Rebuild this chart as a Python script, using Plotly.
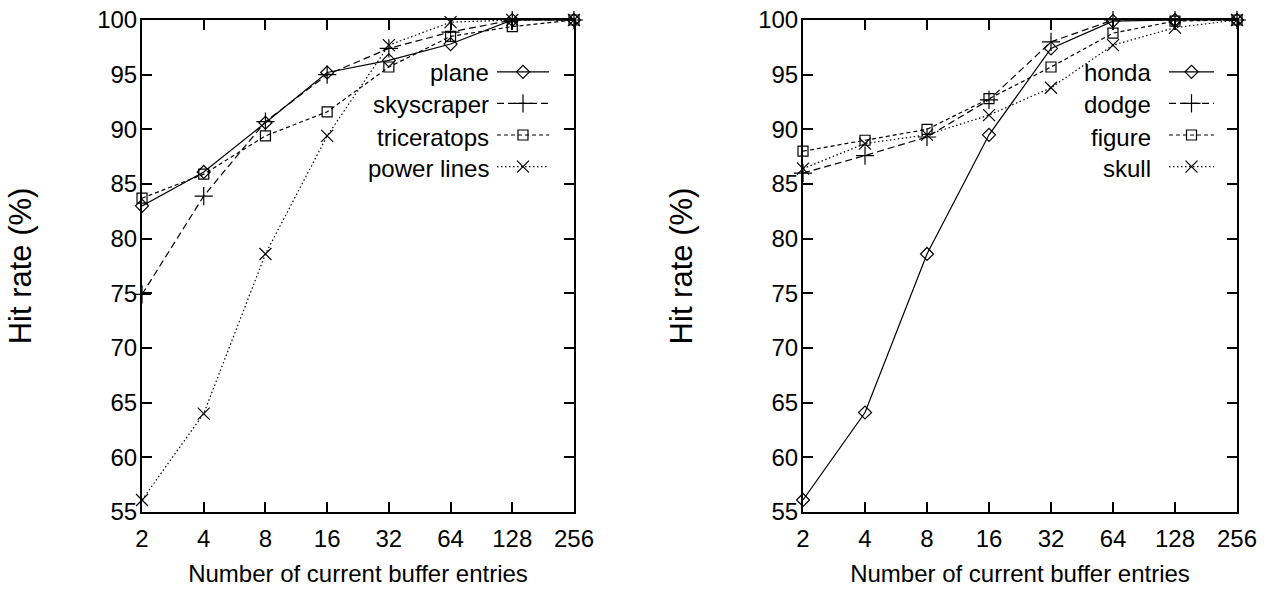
import math
import plotly.graph_objects as go

# ---------------- data ----------------
entries = [2, 4, 8, 16, 32, 64, 128, 256]
tick_labels = ["2", "4", "8", "16", "32", "64", "128", "256"]
y_ticks = [55, 60, 65, 70, 75, 80, 85, 90, 95, 100]

plane = [83.0, 86.1, 90.6, 95.2, 96.3, 97.8, 100.0, 100.0]
skyscraper = [74.9, 83.9, 90.7, 95.0, 97.4, 98.9, 100.0, 100.0]
triceratops = [83.7, 85.9, 89.4, 91.6, 95.7, 98.5, 99.4, 100.0]
power_lines = [56.1, 64.0, 78.6, 89.4, 97.7, 99.8, 100.0, 100.0]

honda = [56.1, 64.1, 78.6, 89.5, 97.4, 99.9, 100.0, 100.0]
dodge = [86.0, 87.6, 89.3, 92.7, 98.0, 100.0, 100.0, 100.0]
figure_ = [88.0, 89.0, 90.0, 92.8, 95.7, 98.8, 99.9, 100.0]
skull = [86.4, 88.7, 89.5, 91.3, 93.8, 97.7, 99.3, 100.0]

left_series = [("plane", plane), ("skyscraper", skyscraper),
               ("triceratops", triceratops), ("power lines", power_lines)]
right_series = [("honda", honda), ("dodge", dodge),
                ("figure", figure_), ("skull", skull)]

# ---------------- styles ----------------
styles = [
    dict(symbol="diamond-open", size=10, dash="solid"),
    dict(symbol="cross-thin-open", size=13, dash="7px,4px"),
    dict(symbol="square-open", size=10, dash="4px,3px"),
    dict(symbol="x-thin-open", size=12, dash="1.5px,2.5px"),
]

FONT = "Liberation Sans, Arial, Helvetica, sans-serif"

fig = go.Figure()

def add_panel(series, xa, ya, legend_id):
    for (name, vals), st in zip(series, styles):
        line = dict(color="black", width=1.2, dash=st["dash"])
        marker = dict(symbol=st["symbol"], size=st["size"], color="black",
                      line=dict(color="black", width=1.2))
        fig.add_trace(go.Scatter(
            x=entries, y=vals, name=name, mode="lines+markers",
            line=line, marker=marker, xaxis=xa, yaxis=ya,
            showlegend=False, cliponaxis=False))
        # legend key only (its text is drawn as an annotation on its left)
        fig.add_trace(go.Scatter(
            x=[None], y=[None], name="\u00a0", mode="lines+markers",
            line=line, marker=marker, xaxis=xa, yaxis=ya,
            showlegend=True, legend=legend_id, hoverinfo="skip"))

add_panel(left_series, "x", "y", "legend")
add_panel(right_series, "x2", "y2", "legend2")

xr = [math.log10(entries[0]) - 1e-4, math.log10(entries[-1]) + 1e-4]

axis_common = dict(
    type="log", range=xr, tickvals=entries, ticktext=tick_labels,
    ticks="inside", ticklen=10, tickwidth=2, tickcolor="black",
    showline=True, linecolor="black", linewidth=2, mirror="ticks",
    showgrid=False, zeroline=False, ticklabelstandoff=4, automargin=False,
    tickfont=dict(family=FONT, size=24, color="black"),
    title=dict(text="Number of current buffer entries",
               font=dict(family=FONT, size=24, color="black"), standoff=14),
)
yaxis_common = dict(
    range=[55, 100], tickvals=y_ticks,
    ticks="inside", ticklen=10, tickwidth=2, tickcolor="black",
    showline=True, linecolor="black", linewidth=2, mirror="ticks",
    showgrid=False, zeroline=False, ticklabelstandoff=-2, automargin=False,
    tickfont=dict(family=FONT, size=24, color="black"),
    title=dict(text="Hit rate (%)", font=dict(family=FONT, size=31, color="black"),
               standoff=56),
)

W, H = 1266, 594
ml, mr, mt, mb = 142, 29, 20, 82
pw = W - ml - mr

fig.update_layout(
    width=W, height=H,
    margin=dict(l=ml, r=mr, t=mt, b=mb),
    paper_bgcolor="white", plot_bgcolor="white",
    xaxis=dict(axis_common, domain=[0, (574 - 142) / pw], anchor="y"),
    yaxis=dict(yaxis_common, domain=[0, 1], anchor="x"),
    xaxis2=dict(axis_common, domain=[(803 - 142) / pw, 1], anchor="y2"),
    yaxis2=dict(yaxis_common, domain=[0, 1], anchor="x2"),
    legend=dict(x=(492 - 142) / pw, xanchor="left", y=1 - (51 - 20) / 492,
                yanchor="top", bgcolor="rgba(0,0,0,0)", borderwidth=0,
                itemwidth=52, tracegroupgap=0,
                font=dict(family=FONT, size=22, color="black")),
    legend2=dict(x=(1164 - 142) / pw, xanchor="left", y=1 - (51 - 20) / 492,
                 yanchor="top", bgcolor="rgba(0,0,0,0)", borderwidth=0,
                 itemwidth=45, tracegroupgap=0,
                 font=dict(family=FONT, size=22, color="black")),
    showlegend=True,
)

# legend texts, right aligned, to the left of the keys
row_y = [72, 104, 137, 168]
for (name, _), ypx in zip(left_series, row_y):
    fig.add_annotation(text=name, xref="x domain", yref="y domain",
                       x=(491 - 142) / 432, y=(512 - ypx) / 492,
                       xanchor="right", yanchor="middle", showarrow=False,
                       font=dict(family=FONT, size=24, color="black"))
for (name, _), ypx in zip(right_series, row_y):
    fig.add_annotation(text=name, xref="x2 domain", yref="y2 domain",
                       x=(1153 - 803) / 434, y=(512 - ypx) / 492,
                       xanchor="right", yanchor="middle", showarrow=False,
                       font=dict(family=FONT, size=24, color="black"))

fig.write_html("out.html", config={"displayModeBar": False},
               post_script="document.body.style.margin='0px';")
